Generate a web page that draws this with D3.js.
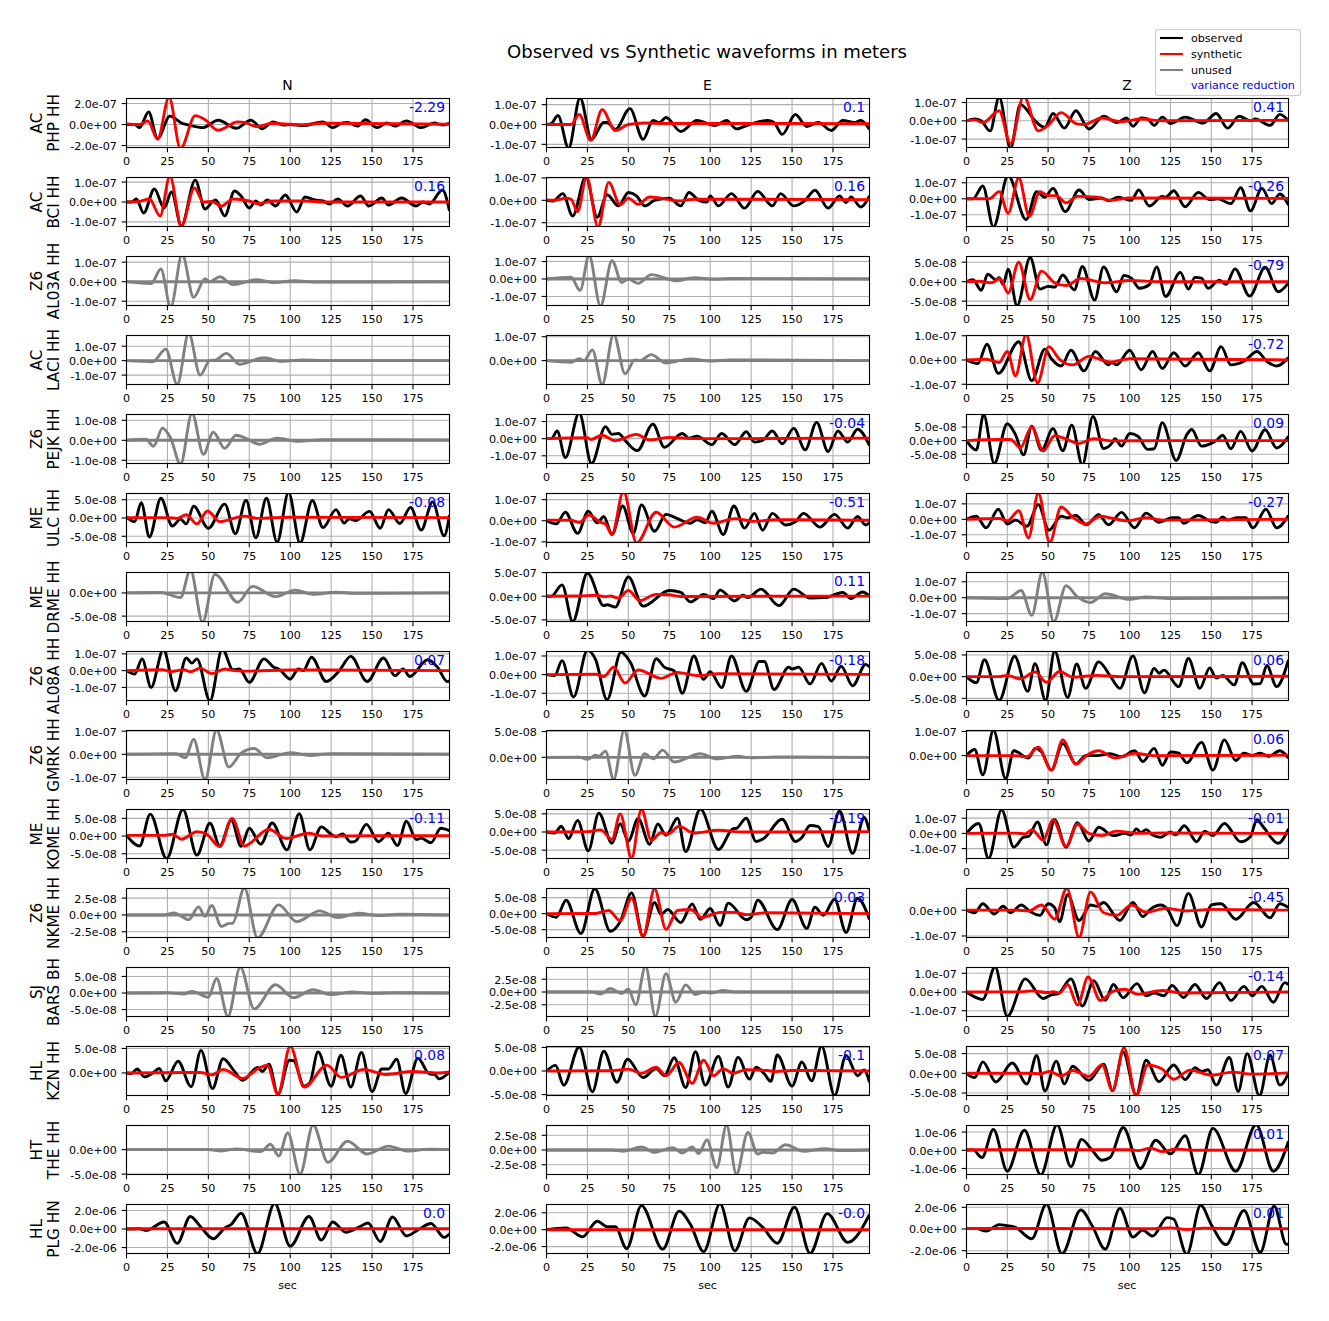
<!DOCTYPE html>
<html><head><meta charset="utf-8">
<script src="https://cdn.jsdelivr.net/npm/d3@7"></script>
<style>html,body{margin:0;padding:0;background:#fff}svg{display:block}text{font-family:"DejaVu Sans",sans-serif}</style>
</head><body><div id="c"></div>
<script>
// ---- labels ----
const components = ["N","E","Z"];
const networks = ["AC","AC","Z6","AC","Z6","ME","ME","Z6","Z6","ME","Z6","SJ","HL","HT","HL"];
const stations = ["PHP HH","BCI HH","AL03A HH","LACI HH","PEJK HH","ULC HH","DRME HH","AL08A HH","GMRK HH","KOME HH","NKME HH","BARS BH","KZN HH","THE HH","PLG HN"];
const xTicks = [0,25,50,75,100,125,150,175];
const xMax = 197.3;
// variance reduction labels (null: unused trace)
const vrN = ["-2.29","0.16",null,null,null,"-0.08",null,"0.07",null,"-0.11",null,null,"0.08",null,"0.0"];
const vrE = ["0.1","0.16",null,null,"-0.04","-0.51","0.11","-0.18",null,"-0.19","0.03",null,"-0.1",null,"-0.0"];
const vrZ = ["0.41","-0.26","-0.79","-0.72","0.09","-0.27",null,"0.06","0.06","-0.01","-0.45","-0.14","0.07","0.01","0.01"];
// units of the values below, y limits, y ticks
const unitN = [1e-7,1e-7,1e-7,1e-7,1e-8,1e-8,1e-8,1e-7,1e-7,1e-8,1e-8,1e-8,1e-8,1e-8,1e-6];
const unitE = [1e-7,1e-7,1e-7,1e-7,1e-7,1e-7,1e-7,1e-7,1e-8,1e-8,1e-8,1e-8,1e-8,1e-8,1e-6];
const unitZ = [1e-7,1e-7,1e-8,1e-7,1e-8,1e-7,1e-7,1e-8,1e-7,1e-7,1e-7,1e-7,1e-8,1e-6,1e-6];
const limN = [[-2.19,2.48],[-1.23,1.23],[-1.22,1.29],[-1.65,1.74],[-1.16,1.29],[-6.7,6.7],[-6.16,4.4],[-1.78,1.14],[-1.09,1.03],[-6.35,7.5],[-3.35,3.93],[-7.1,7.7],[-4.6,5.4],[-5.07,4.9],[-2.64,2.64]];
const limE = [[-1.16,1.31],[-1.17,1.02],[-1.52,1.29],[-1.0,1.05],[-1.45,1.41],[-1.03,1.29],[-5.35,5.02],[-1.39,1.24],[-4.29,5.2],[-7.3,6.2],[-7.45,7.86],[-4.8,4.8],[-5.2,5.2],[-4.16,4.16],[-2.82,2.98]];
const limZ = [[-1.46,1.22],[-1.73,1.33],[-6.12,6.47],[-1.01,1.01],[-8.4,9.6],[-1.5,1.67],[-1.49,1.58],[-5.5,5.8],[-0.99,1.04],[-1.65,1.57],[-1.06,0.84],[-1.31,1.31],[-5.63,6.8],[-1.33,1.36],[-2.26,2.26]];
const ticksN = [[-2,0,2],[-1,0,1],[-1,0,1],[-1,0,1],[-1,0,1],[-5,0,5],[-5,0],[-1,0,1],[-1,0,1],[-5,0,5],[-2.5,0,2.5],[-5,0,5],[0,5],[-5,0],[-2,0,2]];
const ticksE = [[-1,0,1],[-1,0,1],[-1,0,1],[0,1],[-1,0,1],[-1,0,1],[-5,0,5],[-1,0,1],[0,5],[-5,0,5],[-5,0,5],[-2.5,0,2.5],[-5,0,5],[-2.5,0,2.5],[-2,0,2]];
const ticksZ = [[-1,0,1],[-1,0,1],[-5,0,5],[-1,0,1],[-5,0,5],[-1,0,1],[-1,0,1],[-5,0,5],[0,1],[-1,0,1],[-1,0],[-1,0,1],[-5,0,5],[-1,0,1],[-2,0,2]];

// ---- waveforms: time (s), amplitude (in panel unit), read from turning points ----
const flatZero = [0,0,197.3,0];
const N0_obs=[0,0,5,0,8,-.3,13.5,1.2,19,-1.33,26.5,.8,34,.1,38,-.05,46.5,-.3,56,.4,67,-.35,76,.4,83,-.4,89.5,.25,96,-.05,100,0,108,-.1,120,.25,126,-.3,131,.1,135,.2,141,-.15,146,.45,153,-.3,159,.15,164,-.15,171,.35,180,-.3,188,.15,193,-.05,197.3,.1];
const N0_syn=[0,.05,8,0,13,.35,19,-1.4,26,2.6,33,-2.3,42,.85,48,.45,56,-.55,68,.25,72,.2,80,-.2,88,.1,100,.03,107,-.02,120,.12,197.3,.03];
const N1_obs=[0,0,3,0,6,.15,10.5,-.55,17,.65,23,-.3,27.5,.5,33.5,-1.2,42,1.1,48,-.35,53,.05,54.5,.1,60,-.7,66,.55,70,.3,75,-.3,79,.05,82,-.15,86,.1,91,-.2,97,.35,104,-.5,109,.25,115,.1,120,.05,124,-.1,129,.15,135,-.2,143,.3,148,-.2,156,.2,160,-.15,168,.2,177,-.2,181,0,185,-.1,193,.6,197.3,-.45];
const N1_syn=[0,0,8,.03,14,.15,20.5,-.7,26.5,1.3,33.5,-1.2,41.5,.7,47,0,52,.03,58,-.2,65,.15,75,.05,80,-.08,90,.05,110,.05,120,0,197.3,0];
const N2_unused=[0,0,15,-.1,21,.65,27,-1.3,34,1.4,41,-.8,48,.15,51,0,57,.25,65,-.15,80,.1,90,-.05,103,.05,115,-.02,197.3,0];
const N3_unused=[0,0,16,-.08,24,.8,31,-1.65,38,1.9,45,-1,51,.02,54,.03,61,.5,69,-.25,84,.2,95,-.05,108,.05,120,0,197.3,0];
const N4_unused=[0,0,12,.05,16.5,-.3,22,.6,27,.1,33,-1.2,40,1.35,47,-.7,53,.4,60,-.4,67,.25,73,.1,81,-.2,92,.1,105,-.05,120,.03,197.3,.02];
const N5_obs=[0,.3,5,-1,9,4.2,14,-5.2,21,5.4,28,-2.2,33,-.3,36.5,-1.6,41,3.2,50,-2.8,60,3.8,66.5,-4.3,73,4.9,79,-5.4,85.5,5.4,92,-6.6,99,7,106,-6.9,113.5,4.8,120,-2.6,128,2.3,133,-1.4,136,-.2,140,-.7,148.5,1.8,155,-2.8,160,2.3,167,-1.5,173.5,2.9,180,-3.3,187,4.4,194,-4.9,197.3,.8];
const N5_syn=[0,.1,25,.1,31,-.1,36.5,.9,43,-1.6,49.5,1.9,57,-1,72,.5,80,-.1,100,.2,197.3,.1];
const N6_unused=[0,0,21,.1,33,-1,39,5,46.5,-6.3,54,4,68,-2,77,1.4,91,-.8,103,.6,114,-.3,128,.15,140,-.1,197.3,0];
const N7_obs=[0,0,5,-.2,9.5,.7,15,-1,22.5,1.25,30,-1.2,36.5,.75,40,.45,43,.7,51,-1.8,58.5,1.3,65,.05,69,.1,75,-.7,84,.7,90,.2,93,.1,100,-.5,105,.1,108,0,113,.8,122,-.65,130,0,137,.85,147,-.65,157,.75,164,-.3,169,.1,173,-.35,184,.65,190,.2,196,-.65,197.3,-.6];
const N7_syn=[0,0,22,.05,27,-.05,35,.05,39,-.07,45,.15,52,-.18,60,.1,66,0,75,-.03,100,.04,197.3,0];
const N8_unused=[0,0,30,.03,36,-.15,41,.65,48,-1.1,55,1.05,62.5,-.55,70,.05,78,.25,86,-.15,100,.07,112,-.05,125,.03,197.3,0];
const N9_obs=[0,.2,8,-2.8,14.5,6.2,24.5,-6.4,34.5,7.5,43,-5.4,51,3.6,57,-2.8,64,4.5,70,-2.9,75,2.2,82,-2.3,89,3.7,98,-3.9,105.5,6.3,112,-3.9,119,2.6,125,.5,128,-.2,132,.6,137,-1.7,140,-1.4,146.5,3.3,154,-1.6,160,.8,165.5,-2.7,171,4.2,177,-1,180,-.6,186,-1.9,192,2.2,197.3,1.5];
const N9_syn=[0,.2,23,.2,28,.5,33.5,-.9,43,1.2,49,.5,57,-3,64.5,5,72,-2.8,87,1.9,97.5,-.7,111,.8,120,0,150,.1,197.3,.1];
const N10_unused=[0,0,23,0,29,.3,38,-.7,44,1.2,48,-.2,52,1.4,58,-1.7,62,-1.3,65,-1.2,72,4,80,-3.4,93,1.5,104,-1,118,.6,129,-.4,142,.25,154,-.1,167,.1,197.3,0];
const N11_unused=[0,0,25,.1,35,-.3,40,.5,50,-1.3,55,4.4,62,-7.1,69.5,7.8,78,-4.8,91,2.5,102,-1.4,114,1,125,-.5,138,.3,150,-.1,163,.1,197.3,0];
const N12_obs=[0,0,3,-.1,6.5,.8,11,-.8,16,0,20,.9,24,-1.6,31.5,2.4,39.5,-2.8,45.5,4.6,52.5,-3.2,59,2.9,66,.3,71,-1.5,80,1.1,83,.3,87,1.8,92.5,-4.4,99.5,2.6,102,2.5,108.5,-2.7,112,-2,117,4.3,125,-2.7,131,3.6,137,-2.9,143.5,4.2,150,-3.8,156,.8,160,.8,165,2.8,170.5,-4.2,178,3,185,-.2,188,-.3,191,-1.2,197.3,.2];
const N12_syn=[0,0,45,.1,52,-.4,59,.7,71,-1.1,80,.8,86,1.6,92.5,-4.4,100,5.5,108.5,-2.9,122.5,1.6,131,-.9,145,.7,158,-.3,175,.3,190,0,197.3,.2];
const N13_unused=[0,0,50,0,58,-.3,67,.15,82,-.4,88,1.1,93,-1.3,98.5,3.4,106,-5,114,5,123,-2.6,135,1.7,147,-.9,160,.7,172,-.3,185,.1,197.3,0];
const N14_obs=[0,0,8,.03,12,-.15,23,.75,31,-1.55,39,1.35,45,.3,53,-1.05,60,.1,64,.5,70,1.7,80,-2.65,90.5,2.75,100,-1.85,111.5,1.35,119,-1.2,126,.75,134,-.35,142,.2,147.5,.65,155,-1.35,162.5,1.3,171,-.75,178,-.1,186,.6,194,-.9,197.3,-.5];
const N14_syn=[0,.02,197.3,.02];

const E0_obs=[0,0,3,.05,7,.45,13.5,-1.2,20.5,1.35,27.5,-.75,35,.1,37,.1,42,-.25,51,.8,59,-.75,65,.2,69,.1,73,.35,82,-.35,92,.2,103,-.05,110,.2,116,-.22,124,0,135,.2,139,.1,144,-.5,152,.5,159,-.1,166,.1,174,-.3,181,.2,188,.1,192,.2,197.3,-.25];
const E0_syn=[0,0,15,0,20,.5,27,-.8,34,.75,42,-.3,50,0,60,.08,75,.05,100,.05,197.3,.04];
const E1_obs=[0,0,4,-.03,10,.3,16,-.7,24,1.05,31,-.75,37,.25,44,-.25,50,.35,55,.2,60,-.25,66,0,75,.1,82,-.25,87,.35,93,0,98,-.08,100,.2,105,-.25,113,.3,121,-.35,129,.4,138,-.25,143,.3,151,-.25,158,0,164,.45,172,-.35,179,.2,183,-.1,186,.15,192,-.3,197.3,.2];
const E1_syn=[0,.02,5,0,12,.1,15,.05,19,-.5,24.5,1.05,31.5,-1.2,38,.8,45,-.2,50,.1,56,-.18,63,.15,75,.03,80,-.03,90,.05,197.3,.03];
const E2_unused=[0,0,15,.1,20.5,-.65,26,1.35,33,-1.55,40,1.05,46,-.2,50,0,56,-.25,64,.25,79,-.1,90,.07,102,-.02,115,.03,197.3,0];
const E3_unused=[0,0,15,-.07,20,.08,23,0,28,.45,34,-1,41,1.1,48,-.55,54,.03,57,0,64,.25,73,-.1,88,.07,100,-.02,112,.03,197.3,0];
const E4_obs=[0,0,3,0,6.5,.45,11.5,-1.1,20,1.5,27.5,-1.45,36,.7,40,.25,44,.3,48,-.1,55.5,-.7,65,.85,72,-.5,83,.3,87,.03,92,.15,101,-.35,107,.3,115,-.35,122,.4,127,-.2,132,-.1,138,.45,144,-.3,151,.6,158,-.65,165,.95,172,-.75,178,.45,184,-.2,190,.55,197.3,-.4];
const E4_syn=[0,0,25,.05,27,-.05,34,.2,42,-.12,55,.25,63,-.08,75,.07,90,0,197.3,.03];
const E5_obs=[0,0,6,-.15,11.5,.4,19,-.6,25.5,.45,31,-.1,35,.2,40,-.65,46.5,.7,53,-.6,58,.75,66,-.5,73,.3,80,.1,88,-.12,92,.05,97,-.1,101,.45,108,-.65,114.5,.7,121,-.35,127,.35,132,-.45,138,.35,146,-.2,152,-.05,157,.35,167,-.3,176,.3,184,-.35,190,.2,195,-.2,197.3,-.1];
const E5_syn=[0,.03,15,.02,20,-.08,26,.27,33,-.08,36,-.15,40,-.65,47,1.4,55,-1.05,67,.4,78,-.3,92,.17,102,-.12,115,.1,127,-.03,140,.05,197.3,.02];
const E6_obs=[0,0,3,0,9.5,2.4,16,-5.4,25,4.9,35,-2,37,-1.8,42,-2.3,50,4.1,59,-2.1,75,1.2,82,.8,88,-1.2,96,.4,102,-.5,106,1.3,115,-1,120,.2,123,-.3,131,1.5,142,-2,151,1.5,161,-.4,170,-.3,181,.8,186,-.5,193,.9,197.3,0];
const E6_syn=[0,0,20,.05,30,.2,36,-.1,39,.05,44,-.4,50,1.2,57,-.9,67,.4,75,.3,82,-.05,197.3,.03];
const E7_obs=[0,0,5,-.05,9.5,.75,16.5,-1.2,25,1.3,30,.8,37,-1.35,45.5,1.2,51,.7,60,-1.15,67,.85,72,.4,78,.2,83,-1,90,1,96,-.25,100,.15,107,-.7,113,1,122,-.9,130,.7,133,.7,139,-.8,148,.4,150,.3,154,.4,161,-.5,168,.6,174,-.35,180,.45,187,-.6,195,.55,197.3,.4];
const E7_syn=[0,0,30,.02,35,-.1,41,.4,48,-.45,56,.25,70,-.2,80,.12,92,-.05,105,.05,197.3,.01];
const E8_unused=[0,0,20,.05,25,-.4,30,.4,32,.2,36,1.2,41,-4.3,47.5,5.3,54,-3.5,60,.7,65,-.3,71,1.4,78,-.9,94,.7,104,-.3,117,.2,125,-.1,140,.1,197.3,0];
const E9_obs=[0,0,5,-.3,9,1.6,13.5,-1.8,19,3.2,25.5,-5.2,32,5.2,40,-3.1,45,2.3,50,-2.5,56,3.7,63,-3.4,68,2.2,73,-.9,80,3.8,85,-5.4,94,6.3,105,-4.8,114,.9,116,1,122,3.8,128,-2.6,132,-2,144,3.5,152,-2.6,156,-1.5,161,1.8,166,1.5,172,-4,179,5.8,187,-5.9,194,4,197.3,0];
const E9_syn=[0,0,25,.1,33,.6,40,-2,45,5,52,-7.2,58,6.3,64,-2.3,70,-.2,74,-.6,81,1.6,90,-.3,105,.5,120,0,197.3,.1];
const E10_obs=[0,0,6,-1.1,12,4.2,21,-6.2,29.5,7.8,39,-5.5,45,-2.5,52,6.5,59,-7,66,3.5,70,-.2,74,1.3,82,-2.8,89,3,94,-1.8,100,1.6,106,-3.7,111,3.3,122,-1.9,125,-1.1,129,4.2,141,-5,150,4.4,159,-4.6,164,2,169,-.5,176,4.5,183,-5.9,190,4.8,197.3,-1.8];
const E10_syn=[0,0,30,.05,38,1,45,-2.2,52,4.9,59,-7.2,66,7.8,73,-4.9,80,1,88,1.3,95,-1.2,106,.4,115,.4,122,-.3,135,.3,197.3,0];
const E11_unused=[0,0,28,0,33,-.4,39,.7,46,-.3,50,.6,54.5,-2.5,60.5,5.1,66.5,-4.8,73,3.6,79,-2,85,1.4,91,-.5,96,0,101,-.2,108,.3,115,0,197.3,0];
const E12_obs=[0,0,5.5,1.2,10.5,-3,20,5.1,28,-4.4,35,4.2,43,-2.4,49.5,2.5,59,-1.4,67,.5,72,-1,78,2.8,85,-3.5,91,4.1,97,-3,105,3.1,111,-3.4,117,2.9,124,-1.7,128,.8,133,-.6,137,-2.2,141,3.4,150,-3.2,156,1.9,162,-2.1,168,5.3,176,-5.2,183,3.3,190,-1,194,.2,197.3,-2.4];
const E12_syn=[0,0,40,.05,50,.4,58,-.5,67,.8,73,-1,81,1.8,89,-2.6,96,2.3,102,-1,108,.5,114,-.5,122,.3,135,.1,140,-.1,150,.1,197.3,0];
const E13_unused=[0,0,40,0,47,-.2,58,.5,66,-.4,77,.4,83,-.5,89,.5,93,-.6,98,1.7,104,-3,110,4.2,116,-4.1,123,3,129,-.7,132,-.4,138,-.5,146,.9,157,-.2,170,.2,180,-.1,197.3,0];
const E14_obs=[0,0,12,.2,22,-.85,31,1,37,.35,42,.35,49,-2.25,58,2.85,71,-2.3,81,2.2,88,.6,96,-2.6,106,3.05,115,-2.5,124,1.4,132,.3,141,-1.6,151.5,2.65,161,-2.8,171.5,1.9,184,-1.5,197.3,1.8];
const E14_syn=[0,0,197.3,0];

const Z0_obs=[0,0,5,.1,9,0,14.5,-.55,20,1.3,27,-1.5,33,.9,37,.6,41,.1,48,-.35,53,.4,60,-.4,67,.55,75,-.45,84,.25,92,-.1,98,.15,102,-.3,107,.15,111,.1,115,-.25,120,.2,125,-.15,134,.2,145,-.12,153,.4,160,-.4,167,.25,174,0,177,.1,186,-.25,192,.35,197.3,0];
const Z0_syn=[0,0,5,.05,10,-.1,20,.55,27,-1.25,35,1.35,44,-.55,50,-.25,58,.45,67,-.15,72,-.2,83,.15,95,-.05,107,.1,120,0,197.3,.03];
const Z1_obs=[0,0,4,0,10,.8,16.5,-1.75,25.5,1.45,36.5,-1.3,43,.45,48,.1,53,.65,60.5,-.8,69,.55,75,-.05,83,.05,87,-.12,93,.1,101,-.1,105.5,.55,112,-.45,120,.15,122,.1,127,.5,134,-.5,142,.4,149,-.05,154,0,162,-.3,168,.7,174,-.75,181,.65,187,-.3,192,.3,197.3,-.4];
const Z1_syn=[0,0,14,0,20,.45,25.5,-.9,32,1.3,38.5,-1.1,45,.45,50,.2,55,.2,61,-.25,68,.15,80,.1,88,-.1,100,.05,197.3,.02];
const Z2_obs=[0,0,4,.5,9,-2.2,13,1.9,18,.5,20,1,22.5,-.7,25.5,3.2,31,-6.2,39,6.2,45,-1.9,50,-1.2,54,-1.4,59,1.7,66,-2.1,71,3.9,78.5,-4.7,84,3.8,92,-2.6,96.5,1.6,101,.9,106,-1.7,112,-.8,116.5,3.8,122,-3.8,131,2.4,136,-1.9,140,1.1,144,.9,148,-1.7,155,.4,159,-.7,164.5,3.3,173.5,-3.7,183,3.7,191,-2.6,197.3,-.3];
const Z2_syn=[0,0,8,.1,15,-.3,20.5,.8,25.5,-2.9,32,5,39,-4.6,46,2.7,54,-.3,61,-1,70,.8,85,-.3,100,.3,120,0,197.3,0];
const Z3_obs=[0,0,7,-.15,12.5,.65,19.5,-.55,32,.75,40,-.85,48,.45,52,.05,58,-.25,64,.4,72,-.45,79,.35,87,-.2,89,-.1,92,-.2,100,.4,107,-.4,114,.35,120,-.35,127,.3,134,-.25,142,.3,149,-.45,156,.55,162,-.2,170,-.05,178,.35,184,-.05,190,-.25,197.3,.1];
const Z3_syn=[0,0,12,.03,20,-.1,25,.35,30,-.65,36.5,1.05,43.5,-.95,50.5,.55,57,.03,65,-.2,75,.15,88,-.08,100,.05,197.3,0];
const Z4_obs=[0,0,6,-3.5,10.5,9.6,17,-8.4,25,6.2,30,2.2,35,-5.2,40,5.3,46,-3.5,53,4.4,59,-3.7,64.5,5.7,71,-8.9,77.5,8.9,84,-2.9,89,-1,91,.7,95,-2,100,2.6,105,1.6,111,-3.2,115,-3,120,6.6,128.5,-7.3,135,2.2,138,4.1,144,-2,150,-1,153,0,157,2,162,-3,168,3.4,175,-3.8,183,4,190,-2.7,197.3,1.6];
const Z4_syn=[0,0,20,.4,27,.4,33,-2.6,40,5,47,-3.8,54,1.8,60,.8,69,-1,78,.7,90,-.1,120,0,197.3,0];
const Z5_obs=[0,0,6,.2,12,-.55,19.5,.65,25,-.3,30,-.05,37,-.45,44,.95,50.5,-.7,58,.2,62,.1,67,.25,73.5,-.35,81,.3,87,-.35,95,.45,103,-.55,110,.4,118,-.2,126,.1,130,.1,133,-.25,142,.25,150,-.15,153,-.2,157,.15,160,-.05,166,.1,171,.1,175.5,-.55,183.5,.65,190,-.55,197.3,.25];
const Z5_syn=[0,0,20,.05,25,-.1,32,.55,38,-1.2,44,1.7,51,-1.5,58,.8,65,.15,73,-.3,82,.2,90,.05,98,-.1,110,.1,120,-.05,197.3,0];
const Z6_unused=[0,0,25,-.05,33.5,.45,40,-1.1,46.5,1.6,53.5,-1.5,61,.75,68,.05,76,-.3,85,.25,100,-.1,110,.05,125,-.05,197.3,0];
const Z7_obs=[0,0,6,-1.4,11,3.9,20,-5.5,29.5,4.7,37.5,-3.4,42,3,48.5,-5.5,54,5.9,62,-4.8,67.5,2.9,73,-2.7,81,3.4,88,.2,94,-2.7,102,4.8,109,-3.7,115,1.9,118,.8,121,1.5,130,-2.3,136,4.2,143,-2.7,149,2,153,-.3,157,.3,164,-1.9,169,3.2,176,-1.7,180,-1.6,184,2.6,190,-2.3,197.3,3.9];
const Z7_syn=[0,0,20,0,25,.3,33,-.5,42,1.1,49,-1.3,57,1.2,65,-.1,80,.3,95,0,197.3,.1];
const Z8_obs=[0,0,5,.25,10,-.8,16.5,1.05,24,-.95,29,.2,38,-.1,42,.3,46,.15,52,-.6,59,.5,67,-.35,73,0,80,0,88,.08,95,-.05,103,.2,108,-.25,115,.3,120,-.4,125,.15,130,.1,135,-.3,144,.55,151,-.6,158,.65,165,-.2,170,.1,175,0,180,.1,185,-.03,192,.2,197.3,-.1];
const Z8_syn=[0,0,30,0,37,-.05,44,.35,52,-.6,59,.65,67,-.35,74,.03,81,.2,91,-.1,103,.1,115,0,197.3,.02];
const Z9_obs=[0,0,7.5,.65,13.5,-1.65,21.5,1.55,29,-.9,35,-.25,38,-.2,43.5,.75,49,-.75,54,.9,61,-.9,68,.7,75,-.5,81,.4,90,-.15,97,0,101,-.1,104,.3,107,.05,110,.25,114,-.1,119,-.25,125,.1,128,-.1,133.5,.5,141,-.55,146,.15,151,-.15,158,.65,168,-.55,174,-.2,178,.9,182,.4,191,-.65,197.3,.3];
const Z9_syn=[0,0,30,.02,36,-.03,40,.25,47,-.45,53,.9,61,-.85,68,.6,75,0,83,-.15,92,.15,105,0,120,.03,197.3,0];
const Z10_obs=[0,0,5,-.1,10,.25,17,-.15,22.5,.15,27,-.1,33.5,.2,39,-.05,45,-.2,50,.25,54,.1,57,-.45,62,.6,69,-.4,76,.2,80,.15,84,.3,94,-.4,102,.3,108,-.25,113,.05,119,.2,123,.05,129,-.6,136,.65,144,-.65,150,.2,156,.25,165,-.35,176,.3,186,-.3,192,.25,197.3,.1];
const Z10_syn=[0,0,30,0,38,-.03,46,.2,54,-.35,61.5,.85,69,-1.05,76,.7,84,-.1,92,-.2,101,.2,110,-.08,122,.07,135,-.03,150,.03,197.3,0];
const Z11_obs=[0,0,10,-.4,17.5,1.35,25,-1.3,36,.7,47,-.35,52,-.15,56,-.1,64,.7,71,-.75,78,.6,85,-.45,90,.4,96,-.3,104.5,.45,110,-.2,115,-.05,121,-.2,126,.35,133,-.3,140,.4,147,-.35,155,.5,162,-.45,170,.3,175,-.2,181,.3,188,-.55,195,.5,197.3,.4];
const Z11_syn=[0,0,33,.01,40,.06,50,-.03,53,.02,57,-.05,62,.4,68,-.7,74.5,.8,82,-.45,90,.05,97,.15,105,-.12,120,.08,132,-.05,197.3,0];
const Z12_obs=[0,0,5,-1.1,10,2.9,18,-2.2,28,2.6,37,-2.7,43,4.5,48,-4.5,55,3.1,60,-2.7,65,1.8,75,-1.8,84,2.3,89.5,-4.4,96,5.4,104,-5.6,110,3.3,118,-2.1,127,2.1,134,-1.6,140,1.4,144,.5,148,.9,153,-3,161,4,166.5,-4.6,172,5,179.5,-5.7,186,4.6,192,-3,197.3,0];
const Z12_syn=[0,0,40,0,45,-.1,51,.5,58,-.7,65,.7,75,-.8,83,2.2,89.5,-4.4,96.5,6.5,104,-5.7,111,2.1,120,1,127,-1.5,137,.8,150,-.5,163,.3,175,-.2,197.3,.1];
const Z13_obs=[0,0,4,.02,9.5,-.4,16.5,1.15,25,-1.15,35.5,1.1,45.5,-1.35,55.5,1.4,64,-.9,70.5,.6,77,0,83,-.55,88,-.4,96,1.25,106.5,-1,116,.55,125,-.2,134,.8,142,-1.35,151,1.2,165,-1.15,177.5,1.4,188,-1.15,197.3,.5];
const Z13_syn=[0,.03,100,.03,105,-.02,113,.12,120,-.07,128,.07,140,0,197.3,.02];
const Z14_obs=[0,.05,6,.05,12,-.2,20,.4,25,.3,30,.15,40,-.9,49,2.3,58.5,-2.3,70,1.75,77,.3,85,-1.85,94,1.9,102,-.75,108,-.1,114,-.65,123,1.05,127,.9,135,-2.35,143.5,2.2,150,.4,159,-1.45,170,1.7,180,-2.15,188.5,2.1,196,-1.4,197.3,-1.4];
const Z14_syn=[0,.05,115,.03,125,.1,135,-.05,145,.07,197.3,.02];

// [series, kind] per panel, row by row
const tracesN = [[[N0_obs,"o"],[N0_syn,"s"]],[[N1_obs,"o"],[N1_syn,"s"]],[[N2_unused,"u"],[flatZero,"u"]],[[N3_unused,"u"],[flatZero,"u"]],[[N4_unused,"u"],[flatZero,"u"]],[[N5_obs,"o"],[N5_syn,"s"]],[[N6_unused,"u"],[flatZero,"u"]],[[N7_obs,"o"],[N7_syn,"s"]],[[N8_unused,"u"],[flatZero,"u"]],[[N9_obs,"o"],[N9_syn,"s"]],[[N10_unused,"u"],[flatZero,"u"]],[[N11_unused,"u"],[flatZero,"u"]],[[N12_obs,"o"],[N12_syn,"s"]],[[N13_unused,"u"],[flatZero,"u"]],[[N14_obs,"o"],[N14_syn,"s"]]];
const tracesE = [[[E0_obs,"o"],[E0_syn,"s"]],[[E1_obs,"o"],[E1_syn,"s"]],[[E2_unused,"u"],[flatZero,"u"]],[[E3_unused,"u"],[flatZero,"u"]],[[E4_obs,"o"],[E4_syn,"s"]],[[E5_obs,"o"],[E5_syn,"s"]],[[E6_obs,"o"],[E6_syn,"s"]],[[E7_obs,"o"],[E7_syn,"s"]],[[E8_unused,"u"],[flatZero,"u"]],[[E9_obs,"o"],[E9_syn,"s"]],[[E10_obs,"o"],[E10_syn,"s"]],[[E11_unused,"u"],[flatZero,"u"]],[[E12_obs,"o"],[E12_syn,"s"]],[[E13_unused,"u"],[flatZero,"u"]],[[E14_obs,"o"],[E14_syn,"s"]]];
const tracesZ = [[[Z0_obs,"o"],[Z0_syn,"s"]],[[Z1_obs,"o"],[Z1_syn,"s"]],[[Z2_obs,"o"],[Z2_syn,"s"]],[[Z3_obs,"o"],[Z3_syn,"s"]],[[Z4_obs,"o"],[Z4_syn,"s"]],[[Z5_obs,"o"],[Z5_syn,"s"]],[[Z6_unused,"u"],[flatZero,"u"]],[[Z7_obs,"o"],[Z7_syn,"s"]],[[Z8_obs,"o"],[Z8_syn,"s"]],[[Z9_obs,"o"],[Z9_syn,"s"]],[[Z10_obs,"o"],[Z10_syn,"s"]],[[Z11_obs,"o"],[Z11_syn,"s"]],[[Z12_obs,"o"],[Z12_syn,"s"]],[[Z13_obs,"o"],[Z13_syn,"s"]],[[Z14_obs,"o"],[Z14_syn,"s"]]];

// ---- drawing ----
const W=1329,H=1321;
const colLeft=[126.5,546.5,966.5], colWidth=[323,323,322];
const rowTop=i=>Math.round(98.2+78.95*i)+.5, panelH=49;
const colors={o:"#000000",s:"#ff0000",u:"#808080"};
const LW=2.9, TICK=4.86, PAD=4.86, FS=11.1;
const svg=d3.select("#c").append("svg").attr("width",W).attr("height",H).attr("viewBox",`0 0 ${W} ${H}`);
const fmt=d3.format(".1e");
const sci=v=>fmt(v).replace("\u2212","-").replace("\u2212","-").replace(/e([+-])(\d)$/,"e$10$2");
const cols=[[vrN,unitN,limN,ticksN,tracesN],[vrE,unitE,limE,ticksE,tracesE],[vrZ,unitZ,limZ,ticksZ,tracesZ]];

svg.append("text").attr("x",707).attr("y",58).attr("text-anchor","middle").attr("font-size",18.06).text("Observed vs Synthetic waveforms in meters");

cols.forEach(([vr,units,lims,ticks,traces],c)=>{
  const L=colLeft[c],w=colWidth[c];
  svg.append("text").attr("x",L+w/2-.5).attr("y",90).attr("text-anchor","middle").attr("font-size",13.9).text(components[c]);
  stations.forEach((st,r)=>{
    const T=rowTop(r),u=units[r];
    const x=d3.scaleLinear().domain([0,xMax]).range([0,w]);
    const y=d3.scaleLinear().domain(lims[r].map(v=>v*u)).range([panelH,0]);
    const g=svg.append("g").attr("transform",`translate(${L},${T})`);
    const id=`clip${c}_${r}`;
    g.append("clipPath").attr("id",id).append("rect").attr("width",w).attr("height",panelH);
    const yt=ticks[r].map(v=>v*u);
    // grid
    g.append("g").selectAll("line").data(xTicks).join("line").attr("x1",d=>x(d)).attr("x2",d=>x(d)).attr("y1",0).attr("y2",panelH).attr("stroke","#b0b0b0").attr("stroke-width",1.11);
    g.append("g").selectAll("line").data(yt).join("line").attr("x1",0).attr("x2",w).attr("y1",d=>y(d)).attr("y2",d=>y(d)).attr("stroke","#b0b0b0").attr("stroke-width",1.11);
    // traces
    const line=d3.line().x(d=>x(d[0])).y(d=>y(d[1]*u)).curve(d3.curveMonotoneX);
    const tg=g.append("g").attr("clip-path",`url(#${id})`);
    traces[r].forEach(([flat,kind])=>{
      const pts=d3.range(0,flat.length,2).map(i=>[flat[i],flat[i+1]]);
      tg.append("path").datum(pts).attr("d",line).attr("fill","none").attr("stroke",colors[kind]).attr("stroke-width",LW).attr("stroke-linejoin","round");
    });
    // axes
    const ax=g.append("g").attr("transform",`translate(0,${panelH})`).call(d3.axisBottom(x).tickValues(xTicks).tickFormat(d3.format("d")).tickSize(TICK).tickPadding(PAD).offset(0));
    const ay=g.append("g").call(d3.axisLeft(y).tickValues(yt).tickFormat(sci).tickSize(TICK).tickPadding(PAD).offset(0));
    [ax,ay].forEach(a=>{a.attr("font-family",null).attr("font-size",null);a.selectAll("text").attr("font-size",FS).attr("fill","#000");a.selectAll("line").attr("stroke","#000").attr("stroke-width",1.11);a.select(".domain").remove();});
    ay.selectAll("text").attr("dy","0.4em");
    g.append("rect").attr("width",w).attr("height",panelH).attr("fill","none").attr("stroke","#000").attr("stroke-width",1.11);
    if(vr[r]!==null) g.append("text").attr("x",w-4.5).attr("y",13.5).attr("text-anchor","end").attr("font-size",13.9).attr("fill","#0000ff").text(vr[r]);
    if(c===0){
      const cy=T+panelH/2;
      svg.append("text").attr("transform",`translate(42,${cy}) rotate(-90)`).attr("text-anchor","middle").attr("font-size",15.28).text(networks[r]);
      svg.append("text").attr("transform",`translate(58.5,${cy}) rotate(-90)`).attr("text-anchor","middle").attr("font-size",15.28).text(st);
    }
    if(r===stations.length-1) svg.append("text").attr("x",L+w/2-.5).attr("y",T+panelH+35).attr("text-anchor","middle").attr("font-size",FS).text("sec");
  });
});

// legend
const legendItems=[["observed",colors.o],["synthetic",colors.s],["unused",colors.u]];
const lg=svg.append("g");
lg.append("rect").attr("x",1155.5).attr("y",29.5).attr("width",145).attr("height",66).attr("rx",2.8).attr("fill","#fff").attr("fill-opacity",.8).attr("stroke","#cccccc").attr("stroke-width",1.11);
legendItems.forEach(([t,col],i)=>{
  const yy=38+16*i;
  lg.append("line").attr("x1",1160).attr("x2",1183).attr("y1",yy).attr("y2",yy).attr("stroke",col).attr("stroke-width",2.08);
  lg.append("text").attr("x",1191).attr("y",yy+4).attr("font-size",FS).text(t);
});
lg.append("text").attr("x",1191).attr("y",89).attr("font-size",FS).attr("fill","#0000ff").text("variance reduction");
</script></body></html>
